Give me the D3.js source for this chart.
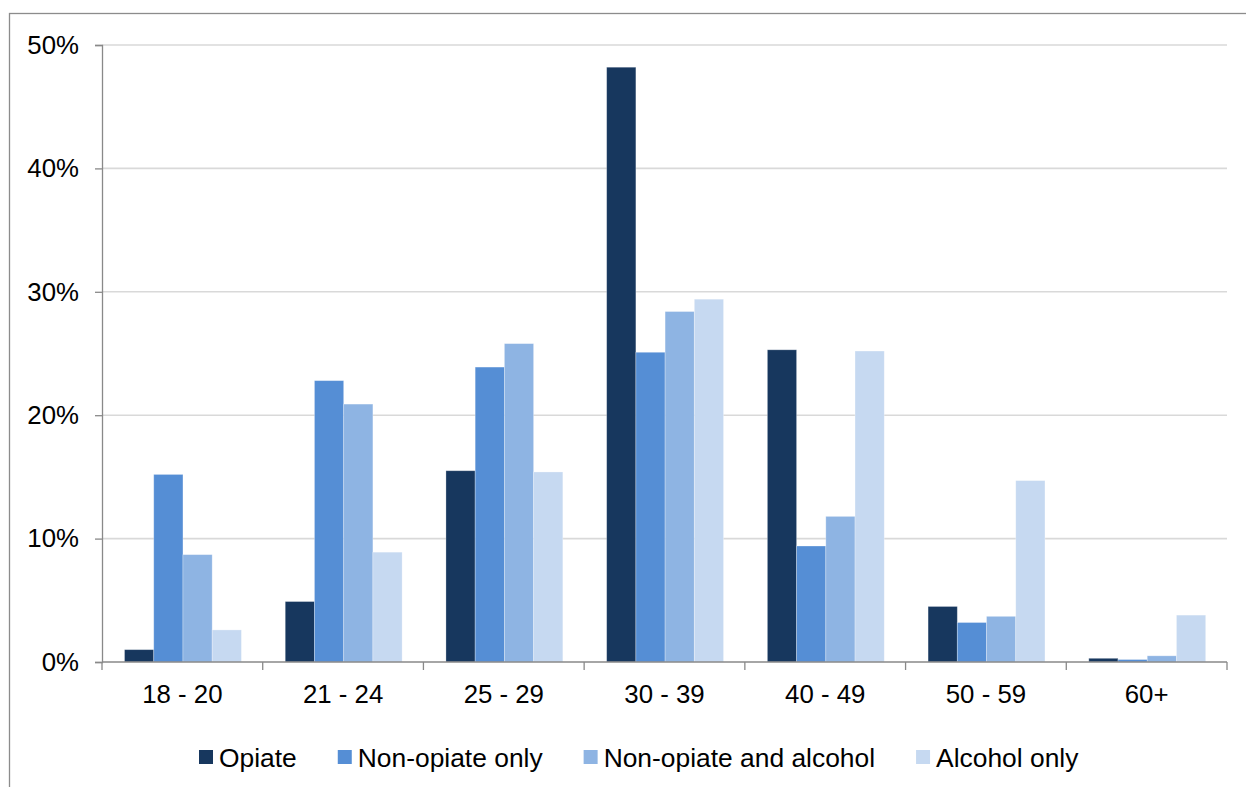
<!DOCTYPE html>
<html>
<head>
<meta charset="utf-8">
<script src="https://cdn.jsdelivr.net/npm/d3@7/dist/d3.min.js"></script>
<style>
  html, body { margin: 0; padding: 0; background: #ffffff; }
  svg { display: block; }
  text { font-family: "Liberation Sans", Arial, sans-serif; fill: #000; }
</style>
</head>
<body>
<svg id="chart" width="1246" height="787"></svg>
<script>
// Age bands on the horizontal axis
const ageGroups = ["18 - 20", "21 - 24", "25 - 29", "30 - 39", "40 - 49", "50 - 59", "60+"];

// Series names and colours
const seriesNames = ["Opiate", "Non-opiate only", "Non-opiate and alcohol", "Alcohol only"];
const seriesColors = ["#17375E", "#558ED5", "#8EB4E3", "#C6D9F1"];

// Share of each group by age band (percent)
const opiate          = [1.0, 4.9, 15.5, 48.2, 25.3, 4.5, 0.3];
const nonOpiateOnly   = [15.2, 22.8, 23.9, 25.1, 9.4, 3.2, 0.2];
const nonOpiateAlc    = [8.7, 20.9, 25.8, 28.4, 11.8, 3.7, 0.5];
const alcoholOnly     = [2.6, 8.9, 15.4, 29.4, 25.2, 14.7, 3.8];

// Value axis ticks (percent)
const yTicks = [0, 10, 20, 30, 40, 50];

const seriesValues = [opiate, nonOpiateOnly, nonOpiateAlc, alcoholOnly];

const svg = d3.select("#chart");

const plot = { left: 102, right: 1227, top: 45, bottom: 662 };

// Outer chart frame (extends past the visible page on the right and bottom)
svg.append("rect")
  .attr("x", 9.5).attr("y", 13.5)
  .attr("width", 1300).attr("height", 900)
  .attr("fill", "none")
  .attr("stroke", "#8c8c8c")
  .attr("stroke-width", 1.3);

const x0 = d3.scaleBand()
  .domain(ageGroups)
  .range([plot.left, plot.right])
  .padding(0);

const x1 = d3.scaleBand()
  .domain(seriesNames)
  .range([0.6, x0.bandwidth() + 0.6])
  .paddingInner(0)
  .paddingOuter(0.75);

const y = d3.scaleLinear()
  .domain([0, 50])
  .range([plot.bottom, plot.top]);

const color = d3.scaleOrdinal().domain(seriesNames).range(seriesColors);

// Horizontal gridlines
svg.append("g")
  .selectAll("line")
  .data(yTicks.filter(t => t > 0))
  .join("line")
  .attr("x1", plot.left).attr("x2", plot.right)
  .attr("y1", d => y(d)).attr("y2", d => y(d))
  .attr("stroke", "#d9d9d9")
  .attr("stroke-width", 1.6);

// Bars
const groups = svg.append("g")
  .selectAll("g")
  .data(ageGroups)
  .join("g")
  .attr("transform", d => `translate(${x0(d)},0)`);

groups.selectAll("rect")
  .data((d, i) => seriesNames.map((s, j) => ({ series: s, value: seriesValues[j][i] })))
  .join("rect")
  .attr("x", d => x1(d.series))
  .attr("width", x1.bandwidth())
  .attr("y", d => y(d.value))
  .attr("height", d => y(0) - y(d.value))
  .attr("fill", d => color(d.series))
  .attr("stroke", "#ffffff")
  .attr("stroke-opacity", 0.35)
  .attr("stroke-width", 0.8);

// Y axis
const yAxis = svg.append("g")
  .attr("transform", `translate(${plot.left},0)`)
  .call(d3.axisLeft(y)
    .tickValues(yTicks)
    .tickSize(7)
    .tickPadding(16)
    .tickFormat(d => d + "%"));
yAxis.select(".domain").attr("stroke", "#898989").attr("stroke-width", 1.3);
yAxis.selectAll(".tick line").attr("stroke", "#898989").attr("stroke-width", 1.3);
yAxis.selectAll("text")
  .attr("font-size", 25.8)
  .attr("font-family", "Liberation Sans, Arial, sans-serif")
  .attr("fill", "#000");

// X axis: labels centred in each band
const xAxis = svg.append("g")
  .attr("transform", `translate(0,${plot.bottom})`)
  .call(d3.axisBottom(x0).tickSize(0).tickPadding(23));
xAxis.select(".domain").remove();
xAxis.selectAll("text")
  .attr("font-size", 25.8)
  .attr("font-family", "Liberation Sans, Arial, sans-serif")
  .attr("fill", "#000");

// X axis baseline and band-boundary tick marks
const boundaries = ageGroups.map(d => x0(d)).concat([x0.range()[1]]);
svg.append("line")
  .attr("x1", plot.left).attr("x2", plot.right)
  .attr("y1", y(0)).attr("y2", y(0))
  .attr("stroke", "#898989").attr("stroke-width", 1.3);
svg.append("g")
  .selectAll("line")
  .data(boundaries)
  .join("line")
  .attr("x1", d => d).attr("x2", d => d)
  .attr("y1", y(0)).attr("y2", y(0) + 8)
  .attr("stroke", "#898989").attr("stroke-width", 1.3);

// Legend
const legend = svg.append("g").attr("transform", "translate(199,757)");
let lx = 0;
seriesNames.forEach((name, i) => {
  const item = legend.append("g").attr("transform", `translate(${lx},0)`);
  item.append("rect")
    .attr("x", 0).attr("y", -7)
    .attr("width", 14).attr("height", 14)
    .attr("fill", seriesColors[i]);
  const t = item.append("text")
    .attr("x", 20).attr("y", 9.5)
    .attr("font-size", 26.4)
    .text(name);
  lx += 20 + t.node().getComputedTextLength() + 41;
});
</script>
</body>
</html>
